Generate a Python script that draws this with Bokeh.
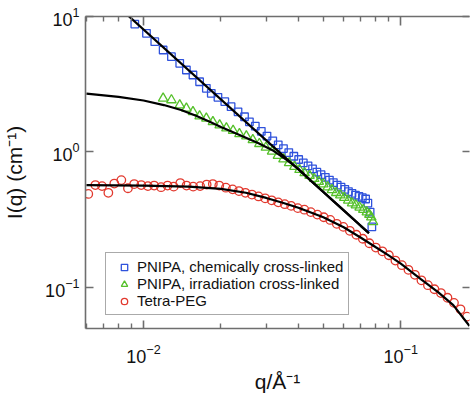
from bokeh.plotting import figure
from bokeh.models import (LogAxis, Legend, LegendItem, Range1d, FixedTicker,
                          CustomJSTickFormatter)
from bokeh.embed import file_html
from bokeh.resources import INLINE

# ---------------- data ----------------
# PNIPA, chemically cross-linked (blue squares)
q_chem = [0.00925, 0.01027, 0.01106, 0.01192, 0.01284, 0.01383, 0.01468, 0.01557, 0.01652,
          0.01755, 0.01834, 0.01947, 0.0207, 0.0219, 0.0233, 0.0247, 0.0258, 0.0272, 0.0287,
          0.0302, 0.0318, 0.0334, 0.0350, 0.0367, 0.0384, 0.0401, 0.0418, 0.0436, 0.0454,
          0.0472, 0.0490, 0.0509, 0.0528, 0.0547, 0.0566, 0.0586, 0.0606, 0.0626, 0.0646,
          0.0667, 0.0688, 0.0709, 0.0730, 0.0745, 0.0760, 0.0772]
I_chem = [8.80, 7.52, 6.52, 5.66, 5.05, 4.51, 4.03, 3.70, 3.30,
          2.95, 2.71, 2.53, 2.35, 2.16, 1.98, 1.82, 1.67, 1.55, 1.42,
          1.31, 1.21, 1.13, 1.06, 0.99, 0.93, 0.88, 0.83, 0.79, 0.75,
          0.71, 0.68, 0.65, 0.62, 0.595, 0.57, 0.55, 0.53, 0.51, 0.495,
          0.48, 0.47, 0.46, 0.45, 0.42, 0.36, 0.28]
q_chem_fit = [0.0085, 0.0752]
I_chem_fit = [10.6, 0.252]

# PNIPA, irradiation cross-linked (green triangles)
q_irr = [0.01192, 0.01284, 0.01383, 0.01468, 0.01557, 0.01652, 0.01755, 0.01861, 0.01977,
         0.0210, 0.0223, 0.0236, 0.0251, 0.0266, 0.0282, 0.0299, 0.0316, 0.0333, 0.0350,
         0.0368, 0.0386, 0.0404, 0.0423, 0.0442, 0.0461, 0.0480, 0.0500, 0.0520, 0.0540,
         0.0561, 0.0582, 0.0603, 0.0625, 0.0647, 0.0669, 0.0692, 0.0715, 0.0738, 0.0755,
         0.0768, 0.0780]
I_irr = [2.49, 2.42, 2.22, 2.10, 1.98, 1.84, 1.77, 1.67, 1.58,
         1.50, 1.44, 1.36, 1.31, 1.23, 1.15, 1.08, 1.01, 0.94, 0.885,
         0.83, 0.78, 0.74, 0.70, 0.67, 0.635, 0.605, 0.58, 0.55, 0.525,
         0.50, 0.48, 0.46, 0.44, 0.42, 0.405, 0.39, 0.375, 0.36, 0.345,
         0.33, 0.305]
q_irr_fit = [0.006, 0.008, 0.010, 0.012, 0.014, 0.016, 0.018, 0.020, 0.024, 0.028, 0.032,
             0.036, 0.040, 0.045, 0.050, 0.055, 0.060, 0.065, 0.070, 0.0752]
I_irr_fit = [2.70, 2.55, 2.40, 2.22, 2.04, 1.85, 1.68, 1.53, 1.32, 1.16, 1.02,
             0.875, 0.75, 0.607, 0.507, 0.43, 0.371, 0.323, 0.284, 0.252]

# Tetra-PEG (red circles)
q_peg = [0.0061, 0.0065, 0.0069, 0.0073, 0.0077, 0.0082, 0.0087, 0.0092, 0.0098, 0.0104,
         0.0110, 0.0117, 0.0124, 0.0131, 0.0139, 0.0147, 0.0156, 0.0166, 0.0176, 0.0186,
         0.0197, 0.0209, 0.0222, 0.0235, 0.0249, 0.0264, 0.0280, 0.0297, 0.0315, 0.0334,
         0.0354, 0.0375, 0.0398, 0.0422, 0.0447, 0.0474, 0.0502, 0.0532, 0.0564, 0.0598,
         0.0634, 0.0672, 0.0712, 0.0755, 0.0800, 0.0848, 0.0899, 0.0953, 0.1010, 0.1071,
         0.1135, 0.1203, 0.1275, 0.1352, 0.1433, 0.1519, 0.1610, 0.1707, 0.1809]
I_peg = [0.49, 0.57, 0.56, 0.50, 0.585, 0.62, 0.54, 0.58, 0.57, 0.56,
         0.565, 0.55, 0.565, 0.555, 0.59, 0.565, 0.555, 0.56, 0.575, 0.58,
         0.565, 0.545, 0.53, 0.515, 0.50, 0.485, 0.47, 0.455, 0.44, 0.425,
         0.412, 0.40, 0.385, 0.375, 0.36, 0.345, 0.33, 0.315, 0.295, 0.28,
         0.262, 0.245, 0.229, 0.212, 0.197, 0.185, 0.173, 0.158, 0.146, 0.135,
         0.124, 0.113, 0.104, 0.097, 0.091, 0.084, 0.077, 0.069, 0.061]
q_peg_fit = [0.006, 0.01, 0.015, 0.02, 0.025, 0.03, 0.035, 0.04, 0.05, 0.06, 0.07, 0.08,
             0.09, 0.10, 0.12, 0.14, 0.16, 0.185]
I_peg_fit = [0.57, 0.565, 0.555, 0.535, 0.50, 0.458, 0.42, 0.388, 0.33, 0.278, 0.233, 0.198,
             0.172, 0.150, 0.115, 0.092, 0.074, 0.052]

x_major = [0.01, 0.1]
x_minor = [0.006, 0.007, 0.008, 0.009, 0.02, 0.03, 0.04, 0.05, 0.06, 0.07, 0.08, 0.09, 0.2]
y_major = [0.1, 1, 10]

labels = ["PNIPA, chemically cross-linked", "PNIPA, irradiation cross-linked", "Tetra-PEG"]
x_title = "q/\u00c5\u207b\u00b9"
y_title = "I(q) (cm\u207b\u00b9)"

# ---------------- styling ----------------
BLUE = "#2f52dc"
GREEN = "#55c02a"
RED = "#e2392e"
AX = "#6e6e6e"
FONT = "Liberation Sans"

p = figure(width=470, height=395, x_axis_type="log", y_axis_type="log",
           x_range=Range1d(0.00595, 0.185), y_range=Range1d(0.0498, 10.001),
           output_backend="svg", toolbar_location=None,
           min_border_left=83, min_border_right=1, min_border_top=16, min_border_bottom=67)
p.outline_line_color = None
p.grid.visible = False
p.background_fill_color = "white"
p.border_fill_color = "white"


def style_axis(ax, major_len, minor_len, show_minor):
    ax.axis_line_color = AX
    ax.axis_line_width = 1.6
    ax.major_tick_line_color = AX
    ax.major_tick_line_width = 1.6
    ax.major_tick_in = major_len
    ax.major_tick_out = 0
    if show_minor:
        ax.minor_tick_line_color = AX
        ax.minor_tick_line_width = 1.4
        ax.minor_tick_in = minor_len
        ax.minor_tick_out = 0
    else:
        ax.minor_tick_line_color = None
    ax.major_label_text_font = FONT
    ax.major_label_text_font_size = "18px"
    ax.major_label_text_color = "#111111"
    ax.axis_label_text_font = FONT
    ax.axis_label_text_font_style = "normal"
    ax.axis_label_text_color = "#111111"


xa = p.xaxis[0]
xa.ticker = FixedTicker(ticks=x_major, minor_ticks=x_minor)
style_axis(xa, 8, 5, True)
xa.major_label_standoff = 15
xa.axis_label = x_title
xa.axis_label_text_font_size = "21px"
xa.axis_label_standoff = 4

ya = p.yaxis[0]
ya.ticker = FixedTicker(ticks=y_major)
style_axis(ya, 8, 0, False)
ya.major_label_standoff = 6
ya.axis_label = y_title
ya.axis_label_text_font_size = "21px"
ya.axis_label_standoff = 16

top = LogAxis(ticker=FixedTicker(ticks=x_major, minor_ticks=x_minor),
              formatter=CustomJSTickFormatter(code="return ''"))
style_axis(top, 9, 5, True)
top.major_label_standoff = 0
p.add_layout(top, "above")

right = LogAxis(ticker=FixedTicker(ticks=y_major),
                formatter=CustomJSTickFormatter(code="return ''"))
style_axis(right, 7, 0, False)
right.axis_line_color = None
right.major_label_standoff = 0
p.add_layout(right, "right")

# ---------------- data glyphs ----------------
r_peg = p.scatter(q_peg, I_peg, marker="circle", size=8.5, fill_color=None,
                  line_color=RED, line_width=1.3)
r_chem = p.scatter(q_chem, I_chem, marker="square", size=7.5, fill_color=None,
                   line_color=BLUE, line_width=1.3)
r_irr = p.scatter(q_irr, I_irr, marker="triangle", size=9.5, fill_color=None,
                  line_color=GREEN, line_width=1.3)

p.line(q_chem_fit, I_chem_fit, line_color="black", line_width=2.2)
p.line(q_irr_fit, I_irr_fit, line_color="black", line_width=2.2)
p.line(q_peg_fit, I_peg_fit, line_color="black", line_width=2.2)

legend = Legend(items=[LegendItem(label=labels[0], renderers=[r_chem]),
                       LegendItem(label=labels[1], renderers=[r_irr]),
                       LegendItem(label=labels[2], renderers=[r_peg])],
                location=(20, 13), margin=0, padding=5, spacing=0,
                glyph_width=26, glyph_height=16, label_height=16, label_standoff=0,
                label_text_font=FONT, label_text_font_size="15px", label_text_color="#111111",
                border_line_color="#555555", border_line_width=1.5,
                background_fill_color="white", background_fill_alpha=1.0)
p.add_layout(legend)

open("out.html", "w").write(file_html(p, INLINE))
